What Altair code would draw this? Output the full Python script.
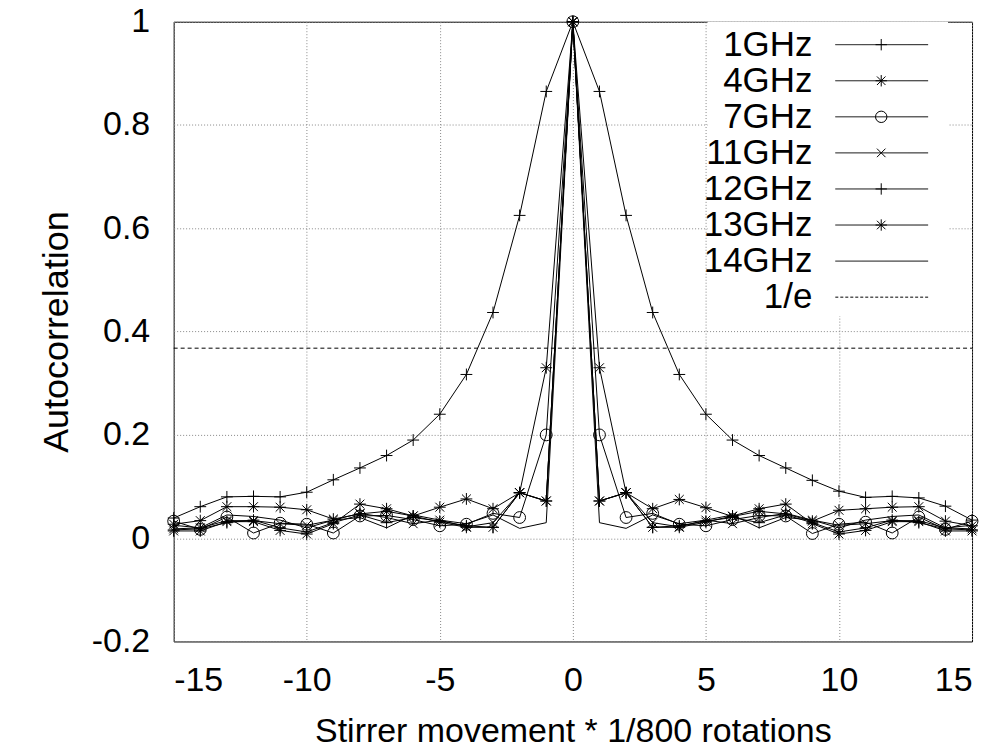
import altair as alt
import pandas as pd

FONT = "Liberation Sans"

lags = list(range(-15, 16))

f1 = [0.039, 0.061, 0.080, 0.081, 0.080, 0.089, 0.113, 0.136, 0.160, 0.190, 0.240, 0.317, 0.437, 0.625, 0.865,
      1.0,
      0.865, 0.625, 0.437, 0.317, 0.240, 0.190, 0.160, 0.136, 0.112, 0.091, 0.079, 0.081, 0.078, 0.062, 0.035]
f4 = [0.027, 0.034, 0.061, 0.061, 0.060, 0.055, 0.037, 0.047, 0.052, 0.043, 0.060, 0.076, 0.057, 0.088, 0.330,
      1.0,
      0.330, 0.088, 0.057, 0.075, 0.059, 0.042, 0.052, 0.047, 0.033, 0.054, 0.057, 0.060, 0.061, 0.033, 0.024]
f7 = [0.033, 0.017, 0.041, 0.010, 0.029, 0.027, 0.010, 0.043, 0.044, 0.036, 0.024, 0.027, 0.048, 0.040, 0.200,
      1.0,
      0.200, 0.040, 0.048, 0.027, 0.024, 0.036, 0.044, 0.043, 0.009, 0.027, 0.031, 0.010, 0.041, 0.017, 0.033]
f11 = [0.018, 0.020, 0.034, 0.034, 0.028, 0.025, 0.035, 0.048, 0.040, 0.028, 0.035, 0.022, 0.030, 0.088, 0.072,
       1.0,
       0.072, 0.088, 0.030, 0.022, 0.035, 0.028, 0.040, 0.048, 0.035, 0.025, 0.028, 0.034, 0.034, 0.020, 0.018]
f12 = [0.016, 0.018, 0.030, 0.035, 0.020, 0.012, 0.030, 0.045, 0.030, 0.040, 0.033, 0.024, 0.021, 0.088, 0.072,
       1.0,
       0.072, 0.088, 0.021, 0.024, 0.033, 0.040, 0.030, 0.045, 0.030, 0.012, 0.020, 0.035, 0.030, 0.018, 0.016]
f13 = [0.014, 0.014, 0.032, 0.032, 0.015, 0.008, 0.028, 0.066, 0.057, 0.043, 0.031, 0.021, 0.021, 0.088, 0.072,
       1.0,
       0.072, 0.088, 0.021, 0.021, 0.031, 0.043, 0.057, 0.066, 0.028, 0.008, 0.015, 0.032, 0.032, 0.014, 0.014]
f14 = [0.025, 0.020, 0.045, 0.042, 0.035, 0.020, 0.035, 0.040, 0.020, 0.045, 0.035, 0.028, 0.045, 0.019, 0.030,
       1.0,
       0.030, 0.019, 0.045, 0.028, 0.035, 0.045, 0.020, 0.040, 0.035, 0.020, 0.035, 0.042, 0.045, 0.020, 0.025]

series_names = ["1GHz", "4GHz", "7GHz", "11GHz", "12GHz", "13GHz", "14GHz"]
series_values = [f1, f4, f7, f11, f12, f13, f14]
marker_series = ["1GHz", "4GHz", "7GHz", "11GHz", "12GHz", "13GHz"]

inv_e = [0.3679]
legend_labels = ["1GHz", "4GHz", "7GHz", "11GHz", "12GHz", "13GHz", "14GHz", "1/e"]
legend_dash = ["solid"] * 7 + ["dashed"]

PLUS = "M-1,0L1,0M0,-1L0,1"
CROSS = "M-0.75,-0.75L0.75,0.75M-0.75,0.75L0.75,-0.75"
STAR = "M-1,0L1,0M0,-1L0,1M-0.75,-0.75L0.75,0.75M-0.75,0.75L0.75,-0.75"
shape_range = [PLUS, STAR, "circle", CROSS, PLUS, STAR]

rows = []
for name, vals in zip(series_names, series_values):
    for x, v in zip(lags, vals):
        rows.append({"series": name, "lag": x, "ac": v})
df = pd.DataFrame(rows)
df_pts = df[df["series"].isin(marker_series)]

xscale = alt.Scale(domain=[-15, 15], nice=False, zero=False)
yscale = alt.Scale(domain=[-0.2, 1.0], nice=False, zero=False)
shape_scale = alt.Scale(domain=marker_series, range=shape_range)

xaxis = alt.Axis(values=[-15, -10, -5, 0, 5, 10, 15], labelExpr="'' + datum.value",
                 labelPadding=22, title="Stirrer movement * 1/800 rotations", titlePadding=17,
                 titleFontSize=34)
yaxis = alt.Axis(values=[-0.2, 0, 0.2, 0.4, 0.6, 0.8, 1.0], labelExpr="'' + datum.value",
                 labelPadding=24, title="Autocorrelation", titlePadding=16, titleFontSize=36)

lines = alt.Chart(df).mark_line(color="black", strokeWidth=1).encode(
    x=alt.X("lag:Q", scale=xscale, axis=xaxis),
    y=alt.Y("ac:Q", scale=yscale, axis=yaxis),
    detail="series:N",
    order="lag:Q",
)

points = alt.Chart(df_pts).mark_point(filled=False, opacity=1, size=140, strokeWidth=1, color="black").encode(
    x=alt.X("lag:Q", scale=xscale),
    y=alt.Y("ac:Q", scale=yscale, axis=None),
    shape=alt.Shape("series:N", scale=shape_scale, legend=None),
)

erule = alt.Chart(pd.DataFrame({"y": inv_e, "x0": [-15], "x1": [15]})).mark_rule(
    color="black", strokeWidth=1, strokeDash=[4, 3]
).encode(
    x=alt.X("x0:Q", scale=xscale),
    x2="x1:Q",
    y=alt.Y("y:Q", scale=yscale, axis=None),
)

leg_df = pd.DataFrame({"label": legend_labels, "dash": legend_dash})
leg_y = alt.Y("label:N", sort=legend_labels,
              scale=alt.Scale(type="point", domain=legend_labels, range=[23, 276], padding=0),
              axis=None)

leg_bg = alt.Chart(pd.DataFrame({"k": [0]})).mark_rect(color="white").encode(
    x=alt.value(535), x2=alt.value(776), y=alt.value(0), y2=alt.value(295)
)

leg_text = alt.Chart(leg_df).mark_text(
    align="right", baseline="middle", font=FONT, fontSize=35, color="black"
).encode(x=alt.value(640), y=leg_y, text="label:N")

leg_lines = alt.Chart(leg_df).mark_rule(color="black", strokeWidth=1).encode(
    x=alt.value(663), x2=alt.value(756), y=leg_y,
    strokeDash=alt.StrokeDash("dash:N", scale=alt.Scale(domain=["solid", "dashed"], range=[[1, 0], [3, 2]]),
                              legend=None),
)

leg_pts = alt.Chart(leg_df[leg_df["label"].isin(marker_series)]).mark_point(
    filled=False, opacity=1, size=130, strokeWidth=1, color="black"
).encode(
    x=alt.value(709), y=leg_y,
    shape=alt.Shape("label:N", scale=shape_scale, legend=None),
)

chart = alt.layer(lines, points, erule, leg_bg, leg_text, leg_lines, leg_pts).resolve_scale(
    y="independent"
).properties(
    width=800, height=621,
    padding={"left": 166, "top": 13, "right": 20, "bottom": 110},
    autosize=alt.AutoSizeParams(type="none"),
).configure_view(
    stroke="black", strokeWidth=1
).configure_axis(
    grid=True, gridDash=[1, 2], gridColor="#888888", gridWidth=1,
    ticks=False, domain=False,
    labelFont=FONT, labelFontSize=34, labelColor="black",
    titleFont=FONT, titleFontWeight="normal", titleColor="black",
)

chart.save("out.html", embed_options={"renderer": "svg", "actions": False})
